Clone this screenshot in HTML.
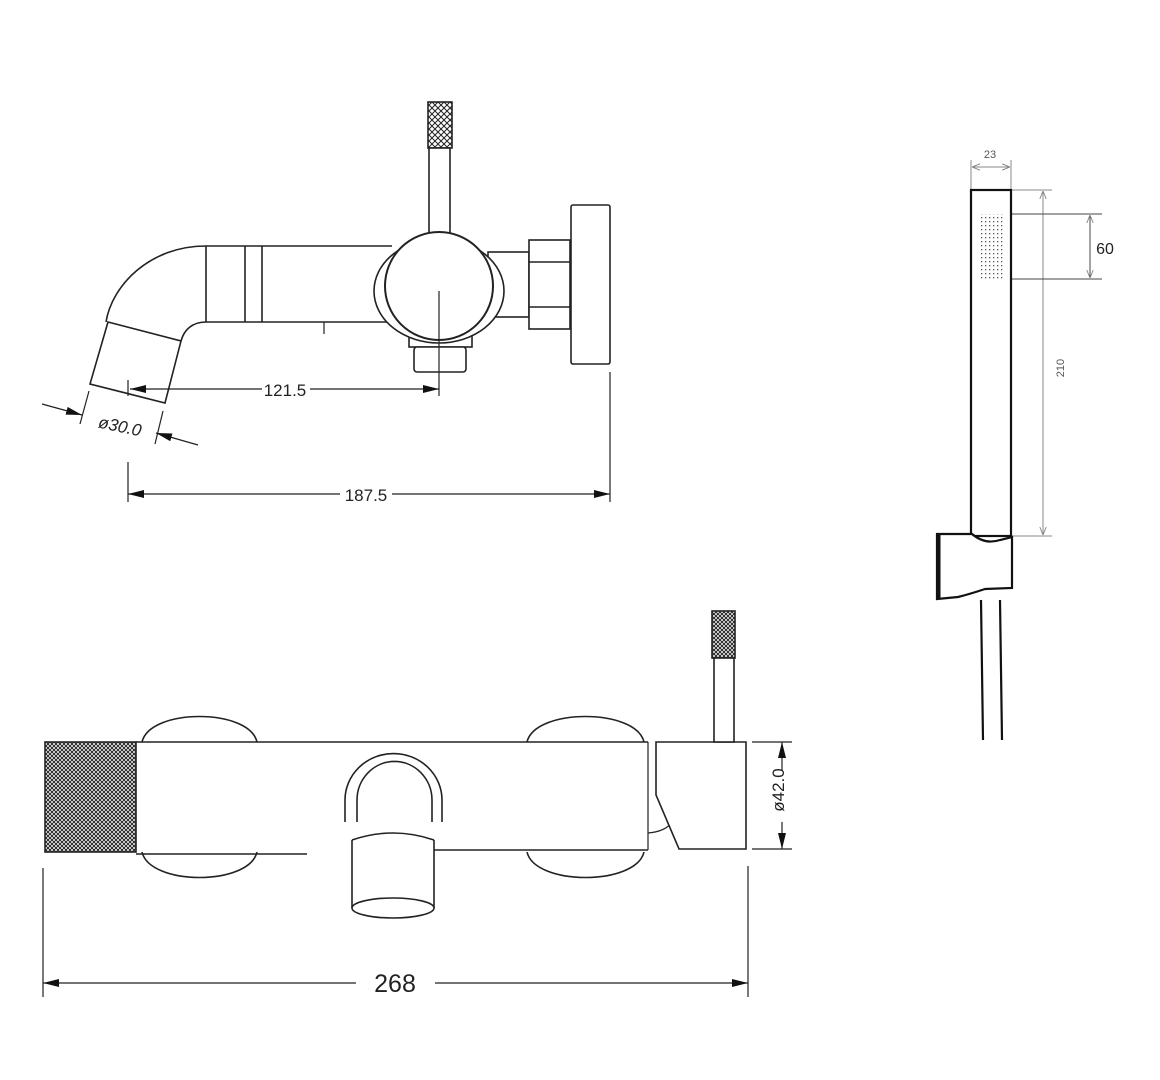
<!DOCTYPE html>
<html><head><meta charset="utf-8"><style>
html,body{margin:0;padding:0;background:#fff;}
svg{display:block;}
text{font-family:"Liberation Sans",sans-serif;}
</style></head><body>
<svg width="1160" height="1080" viewBox="0 0 1160 1080" xmlns="http://www.w3.org/2000/svg">
<defs>
<pattern id="kn" width="6" height="6" patternUnits="userSpaceOnUse">
<rect width="6" height="6" fill="#fff"/>
<path d="M0 0L6 6M6 0L0 6" stroke="#222" stroke-width="1"/>
</pattern>
<pattern id="kn2" width="4" height="4" patternUnits="userSpaceOnUse">
<rect width="4" height="4" fill="#fff"/>
<path d="M0 0L4 4M4 0L0 4" stroke="#222" stroke-width="1"/>
</pattern>
<pattern id="dots" width="4" height="4" patternUnits="userSpaceOnUse">
<rect x="1" y="1" width="1.3" height="1.3" fill="#555"/>
</pattern>
<marker id="ar2" viewBox="0 0 16 8" refX="16" refY="4" markerWidth="16" markerHeight="8" orient="auto-start-reverse" markerUnits="userSpaceOnUse"><path d="M0 0L16 4L0 8z" fill="#111"/></marker>
<marker id="ag" viewBox="0 0 10 8" refX="10" refY="4" markerWidth="8" markerHeight="7" orient="auto-start-reverse" markerUnits="userSpaceOnUse"><path d="M0 0L10 4L0 8" fill="none" stroke="#888" stroke-width="1.2"/></marker>
</defs>

<g fill="none" stroke="#222" stroke-width="1.6">
<!-- TOP VIEW -->
<rect x="428" y="102" width="24" height="46" fill="url(#kn)"/>
<rect x="429" y="148" width="21" height="85" fill="#fff"/>
<line x1="206" y1="246" x2="392" y2="246"/>
<line x1="206" y1="322" x2="392" y2="322"/>
<line x1="206" y1="246" x2="206" y2="322"/>
<line x1="245" y1="246" x2="245" y2="322"/>
<line x1="262" y1="246" x2="262" y2="322"/>
<line x1="324" y1="322" x2="324" y2="334" stroke-width="1.2"/>
<path d="M206 246 C150 246 112 285 106 322"/>
<path d="M206 322 C192 322 184 330 181 341"/>
<path d="M108 322 L181 341 L165 403 L90 384 Z" fill="#fff"/>
<rect x="488" y="252" width="41" height="65" fill="#fff"/>
<rect x="529" y="240" width="41" height="89" fill="#fff"/>
<line x1="529" y1="262" x2="570" y2="262"/>
<line x1="529" y1="307" x2="570" y2="307"/>
<rect x="571" y="205" width="39" height="159" rx="2" fill="#fff"/>
<rect x="409" y="329" width="63" height="18" fill="#fff"/>
<rect x="414" y="347" width="52" height="25" rx="3" fill="#fff"/>
<ellipse cx="439" cy="291" rx="65" ry="52" fill="#fff"/>
<circle cx="439" cy="286" r="54" fill="#fff" stroke-width="2"/>
<line x1="439" y1="291" x2="439" y2="396" stroke-width="1.2"/>
</g>

<!-- top dims -->
<g stroke="#222" stroke-width="1.2" fill="none">
<line x1="128" y1="380" x2="128" y2="396"/>
<line x1="130" y1="389" x2="262" y2="389" marker-start="url(#ar2)"/>
<line x1="310" y1="389" x2="439" y2="389" marker-end="url(#ar2)"/>
<line x1="128" y1="462" x2="128" y2="502"/>
<line x1="610" y1="372" x2="610" y2="502"/>
<line x1="128" y1="494" x2="340" y2="494" marker-start="url(#ar2)"/>
<line x1="392" y1="494" x2="610" y2="494" marker-end="url(#ar2)"/>
<line x1="89" y1="391" x2="80" y2="424"/>
<line x1="163" y1="411" x2="155" y2="444"/>
<line x1="42" y1="404" x2="82" y2="415" marker-end="url(#ar2)"/>
<line x1="198" y1="445" x2="156" y2="433" marker-end="url(#ar2)"/>
</g>
<text x="285" y="396" font-size="17" text-anchor="middle" fill="#222">121.5</text>
<text x="366" y="501" font-size="17" text-anchor="middle" fill="#222">187.5</text>
<text x="120" y="432" font-size="17" text-anchor="middle" fill="#222" font-style="italic" transform="rotate(12 120 426)">ø30.0</text>

<!-- BOTTOM VIEW -->
<g fill="none" stroke="#222" stroke-width="1.6">
<path d="M142 742 C150 708 249 708 257 742"/>
<path d="M142 852 C150 886 249 886 257 852"/>
<path d="M527 742 C535 708 636 708 644 742"/>
<path d="M527 852 C535 886 636 886 644 852"/>
<rect x="45" y="742" width="91" height="110" fill="url(#kn2)" stroke="#222"/>
<line x1="136" y1="742" x2="648" y2="742"/>
<line x1="136" y1="854" x2="307" y2="854"/>
<line x1="434" y1="850" x2="648" y2="850"/>
<line x1="648" y1="742" x2="648" y2="850" stroke-width="1.2"/>
<path d="M648 833 C660 832 668 828 672 822" stroke-width="1.2"/>
<path d="M345 822 L345 800 A48 46 0 0 1 442 800 L442 822"/>
<path d="M357 822 L357 800 A37 38 0 0 1 432 800 L432 822"/>
<path d="M352 840 L352 908 M434 840 L434 908" />
<path d="M352 840 Q393 826 434 840"/>
<ellipse cx="393" cy="908" rx="41" ry="10" fill="#fff"/>
<path d="M656 742 L746 742 L746 849 L679 849 L656 795 Z" fill="#fff"/>
<rect x="712" y="611" width="23" height="47" fill="url(#kn2)"/>
<rect x="714" y="658" width="20" height="84" fill="#fff"/>
</g>
<g stroke="#222" stroke-width="1.2" fill="none">
<line x1="752" y1="742" x2="792" y2="742"/>
<line x1="752" y1="849" x2="792" y2="849"/>
<line x1="782" y1="770" x2="782" y2="742" marker-end="url(#ar2)"/>
<line x1="782" y1="822" x2="782" y2="849" marker-end="url(#ar2)"/>
<line x1="43" y1="868" x2="43" y2="997"/>
<line x1="748" y1="866" x2="748" y2="997"/>
<line x1="43" y1="983" x2="356" y2="983" marker-start="url(#ar2)"/>
<line x1="435" y1="983" x2="748" y2="983" marker-end="url(#ar2)"/>
</g>
<text x="790" y="796" font-size="17" text-anchor="middle" fill="#222" transform="rotate(-90 784 796)">ø42.0</text>
<text x="395" y="992" font-size="25" text-anchor="middle" fill="#222">268</text>

<!-- HAND SHOWER -->
<g stroke="#888" stroke-width="1" fill="none">
<line x1="971" y1="160" x2="971" y2="190"/>
<line x1="1011" y1="160" x2="1011" y2="190"/>
<line x1="972" y1="167" x2="1010" y2="167" marker-start="url(#ag)" marker-end="url(#ag)"/>
<line x1="1011" y1="190" x2="1052" y2="190"/>
<line x1="1011" y1="536" x2="1052" y2="536"/>
<line x1="1043" y1="191" x2="1043" y2="535" marker-start="url(#ag)" marker-end="url(#ag)"/>
<line x1="1011" y1="214" x2="1102" y2="214" stroke="#444"/>
<line x1="1011" y1="279" x2="1102" y2="279" stroke="#444"/>
<line x1="1090" y1="215" x2="1090" y2="278" stroke="#444" marker-start="url(#ag)" marker-end="url(#ag)"/>
</g>
<text x="990" y="158" font-size="11" text-anchor="middle" fill="#555">23</text>
<text x="1064" y="368" font-size="11" text-anchor="middle" fill="#555" transform="rotate(-90 1064 368)">210</text>
<text x="1105" y="254" font-size="16" text-anchor="middle" fill="#222">60</text>
<g fill="none" stroke="#111" stroke-width="2.2">
<rect x="971" y="190" width="40" height="346" fill="#fff"/>
<rect x="980" y="214" width="23" height="65" fill="url(#dots)" stroke="none"/>
<path d="M937 534 L972 534 Q985 545 1000 540 L1012 537 L1012 588 L985 589 Q970 594 958 597 L937 599 Z" fill="#fff"/>
<line x1="939" y1="535" x2="939" y2="599" stroke-width="3"/>
<line x1="981" y1="600" x2="983" y2="740"/>
<line x1="1000" y1="600" x2="1002" y2="740"/>
</g>
</svg>
</body></html>
